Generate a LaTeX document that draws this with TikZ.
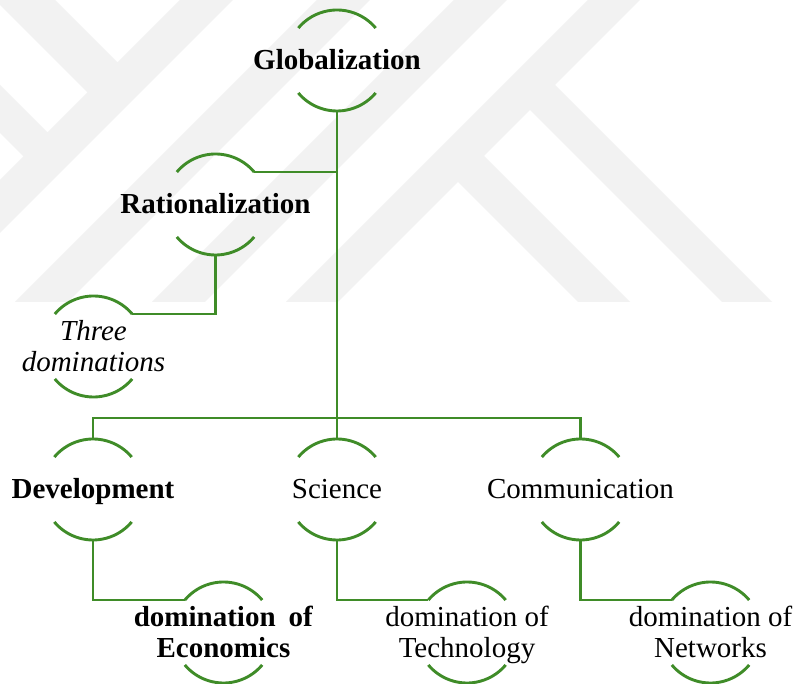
\documentclass[tikz,border=0pt]{standalone}
\usepackage{fontspec}
\setmainfont{Liberation Serif}
\definecolor{leaf}{RGB}{63,140,40}
\definecolor{markgray}{gray}{0.95}
% text centred on a hub without enlarging it
\newcommand\oneline[1]{\raisebox{-9.5pt}[0pt][0pt]{\makebox[0pt]{#1}}}
\newcommand\twolines[2]{\raisebox{6pt}[0pt][0pt]{\makebox[0pt]{\begin{tabular}[t]{@{}c@{}}#1\\#2\end{tabular}}}}
\tikzset{
  hub/.style={circle, minimum size=101pt, inner sep=0pt, outer sep=0pt,
    font=\fontsize{29pt}{31pt}\selectfont},
  arcline/.style={draw=leaf, line width=2.9pt},
  link/.style={draw=leaf, line width=2.9pt}
}
\begin{document}
\begin{tikzpicture}[x=1pt, y=1pt]
\fill[white] (0,0) rectangle (797,684);
\useasboundingbox (0,0) rectangle (797,684);

% faint background emblem of diagonal stripes
\begin{scope}[shift={(0,684)}, yscale=-1]
  \clip (0,0) rectangle (797,302);
  \fill[markgray] (180,0) -- (233,0) -- (-69,302) -- (-122,302) -- cycle;
  \fill[markgray] (317,0) -- (370,0) -- (68,302) -- (15,302) -- cycle;
  \fill[markgray] (454,0) -- (507,0) -- (205,302) -- (152,302) -- cycle;
  \fill[markgray] (588,0) -- (640,0) -- (338,302) -- (286,302) -- cycle;
  \fill[markgray] (-5,0) -- (55,0) -- (127.5,72.5) -- (97.5,102.5) -- cycle;
  \fill[markgray] (-10,75) -- (-10,123) -- (33.5,166.5) -- (57.5,142.5) -- cycle;
  \fill[markgray] (545,75) -- (772,302) -- (722,302) -- (520,100) -- cycle;
  \fill[markgray] (474,146) -- (630,302) -- (578,302) -- (448,172) -- cycle;
\end{scope}

% hubs
\node[hub] (glob)  at (337,623.5)  {\oneline{\textbf{Globalization}}};
\node[hub] (rat)   at (215.5,479.5) {\oneline{\textbf{Rationalization}}};
\node[hub] (three) at (93.5,337.5)  {\twolines{\textit{Three}}{\textit{dominations}}};
\node[hub] (dev)   at (93,194.5)   {\oneline{\textbf{Development}}};
\node[hub] (sci)   at (337,194.5)  {\oneline{Science}};
\node[hub] (comm)  at (580.5,194.5) {\oneline{Communication}};
\node[hub] (econ)  at (223.5,51.5) {\twolines{\textbf{domination\hspace{0.45em}of}}{\textbf{Economics}}};
\node[hub] (tech)  at (467,51.5)   {\twolines{domination of}{Technology}};
\node[hub] (net)   at (710.5,51.5) {\twolines{domination of}{Networks}};
\coordinate (bus) at (337,266);

% upper and lower arcs of every hub
\foreach \n in {glob,rat,three,dev,sci,comm,econ,tech,net}
  \draw[arcline] (\n.40) arc[start angle=40, end angle=140, radius=50.5pt]
                 (\n.220) arc[start angle=220, end angle=320, radius=50.5pt];

% connectors
\draw[link] (glob.south) -- (sci.north);
\draw[link] (rat.40) -- (rat.40 -| glob.south);
\draw[link] (rat.south) |- (three.40);
\draw[link] (dev.north) |- (bus) -| (comm.north);
\draw[link] (dev.south) |- (econ.140);
\draw[link] (sci.south) |- (tech.140);
\draw[link] (comm.south) |- (net.140);
\end{tikzpicture}
\end{document}
